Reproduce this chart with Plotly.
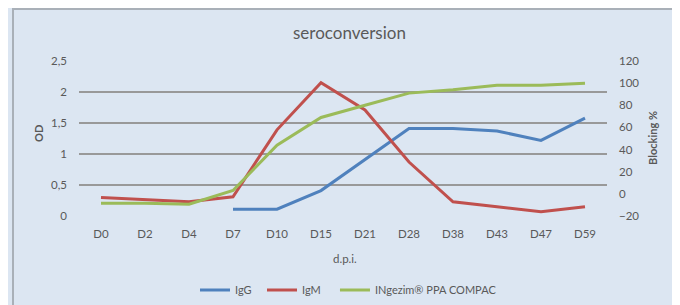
import plotly.graph_objects as go

days = ["D0", "D2", "D4", "D7", "D10", "D15", "D21", "D28", "D38", "D43", "D47", "D59"]
igg = [None, None, None, 0.11, 0.11, 0.41, 0.91, 1.41, 1.41, 1.37, 1.22, 1.58]
igm = [0.30, 0.26, 0.23, 0.31, 1.39, 2.15, 1.71, 0.87, 0.23, 0.15, 0.07, 0.15]
blocking = [-8.5, -8.5, -9.4, 3, 44, 69, 80, 91, 94, 98, 98, 100]

od_ticks = [0, 0.5, 1, 1.5, 2, 2.5]
pct_ticks = [-20, 0, 20, 40, 60, 80, 100, 120]

FONT = "Lato, 'Open Sans', sans-serif"
TXT = "#595959"

fig = go.Figure()
fig.add_trace(go.Scatter(x=days, y=igg, name="IgG", mode="lines",
                         line=dict(color="#4f81bd", width=3), legend="legend"))
fig.add_trace(go.Scatter(x=days, y=igm, name="IgM", mode="lines",
                         line=dict(color="#c0504d", width=3), legend="legend2"))
fig.add_trace(go.Scatter(x=days, y=blocking, name="INgezim® PPA COMPAC", mode="lines",
                         line=dict(color="#9bbb59", width=3), yaxis="y2", legend="legend3"))

def leg(x):
    return dict(orientation="h", x=x, y=-0.477, xanchor="left", yanchor="middle",
                font=dict(size=11, color=TXT), bgcolor="rgba(0,0,0,0)",
                itemwidth=30, tracegroupgap=0)

# the page body has an 8px margin, so the figure is sized/offset to compensate
fig.update_layout(
    width=672, height=297,
    margin=dict(l=71, r=73, t=53, b=89, autoexpand=False),
    paper_bgcolor="#dce6f2", plot_bgcolor="#dce6f2",
    separators=", ",
    font=dict(family=FONT, size=11, color=TXT),
    showlegend=True,
    legend=leg(0.2197),
    legend2=leg(0.3466),
    legend3=leg(0.4848),
    xaxis=dict(type="category", range=[-0.5, 11.5], showgrid=False, zeroline=False,
               showline=False, ticks="", ticklabelstandoff=9,
               tickfont=dict(size=11.5, color=TXT)),
    yaxis=dict(range=[0, 2.5], tickvals=od_ticks, showgrid=True, gridcolor="#999999",
               gridwidth=2, zeroline=False, showline=False, ticks="",
               ticklabelstandoff=11, tickfont=dict(size=11.5, color=TXT)),
    yaxis2=dict(range=[-20, 120], tickvals=pct_ticks, overlaying="y", side="right",
                showgrid=False, zeroline=False, showline=False, ticks="",
                ticklabelstandoff=11, tickfont=dict(size=11.5, color=TXT)),
    annotations=[
        dict(text="seroconversion", x=0.513, y=1.187, xref="paper", yref="paper",
             showarrow=False, font=dict(size=17, color=TXT), xanchor="center", yanchor="middle"),
        dict(text="<b>OD</b>", x=-0.078, y=0.535, xref="paper", yref="paper",
             showarrow=False, textangle=-90, font=dict(size=11, color=TXT),
             xanchor="center", yanchor="middle"),
        dict(text="<b>Blocking %</b>", x=1.085, y=0.503, xref="paper", yref="paper",
             showarrow=False, textangle=-90, font=dict(size=11, color=TXT),
             xanchor="center", yanchor="middle"),
        dict(text="d.p.i.", x=0.504, y=-0.271, xref="paper", yref="paper",
             showarrow=False, font=dict(size=11.5, color=TXT),
             xanchor="center", yanchor="middle"),
    ],
    shapes=[
        dict(type="path", xref="paper", yref="paper",
             path="M -0.125,-0.7 L -0.125,1.335 L 1.129,1.335 L 1.129,-0.7",
             line=dict(color="#a9b0b8", width=2), fillcolor="rgba(0,0,0,0)", layer="below"),
    ],
)

fig.write_html("out.html")
